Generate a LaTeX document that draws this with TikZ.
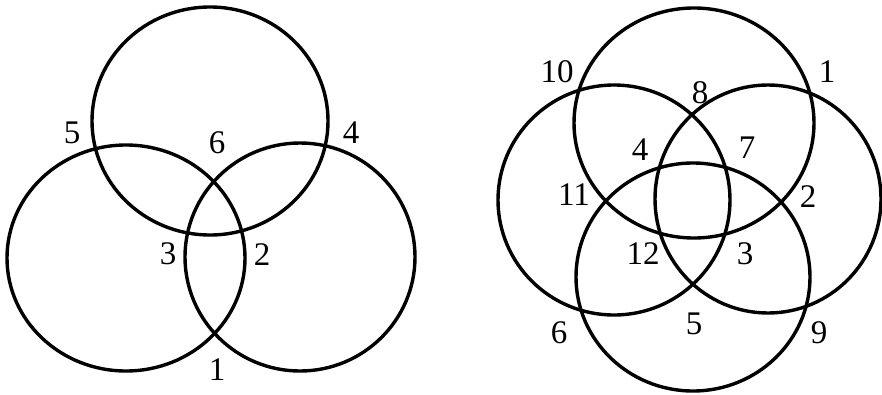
\documentclass[tikz,border=0pt]{standalone}
\usepackage{fontspec}
\setmainfont{Liberation Serif}
\begin{document}
\begin{tikzpicture}[x=1pt,y=-1pt,
    ring/.style={line width=3.4pt},
    num/.style={font=\fontsize{33}{34}\selectfont,inner sep=0pt}]
  \useasboundingbox (0,0) rectangle (882,394);
  % three rings
  \draw[ring] (210,121) ellipse [x radius=118pt,y radius=114pt];
  \draw[ring] (126,258) ellipse [x radius=119pt,y radius=113pt];
  \draw[ring] (300,257) ellipse [x radius=115pt,y radius=114pt];
  \node[num] (a5) at (72,133) {5};
  \node[num] (a6) at (217,143) {6};
  \node[num] (a4) at (351,133) {4};
  \node[num] (a3) at (168,254) {3};
  \node[num] (a2) at (262,255) {2};
  \node[num] (a1) at (217,370) {1};
  % four rings
  \draw[ring] (694,123) ellipse [x radius=120pt,y radius=115pt];
  \draw[ring] (614,200) ellipse [x radius=116pt,y radius=115pt];
  \draw[ring] (768,199) ellipse [x radius=113pt,y radius=114pt];
  \draw[ring] (693,277) ellipse [x radius=117pt,y radius=114pt];
  \node[num] (b10) at (557,72) {10};
  \node[num] (b1) at (827,72) {1};
  \node[num] (b8) at (700,93) {8};
  \node[num] (b4) at (640,150) {4};
  \node[num] (b7) at (747,148) {7};
  \node[num] (b11) at (574,195) {11};
  \node[num] (b2) at (808,197) {2};
  \node[num] (b12) at (643,254) {12};
  \node[num] (b3) at (745,254) {3};
  \node[num] (b6) at (559,333) {6};
  \node[num] (b5) at (694,324) {5};
  \node[num] (b9) at (819,333) {9};
\end{tikzpicture}
\end{document}
